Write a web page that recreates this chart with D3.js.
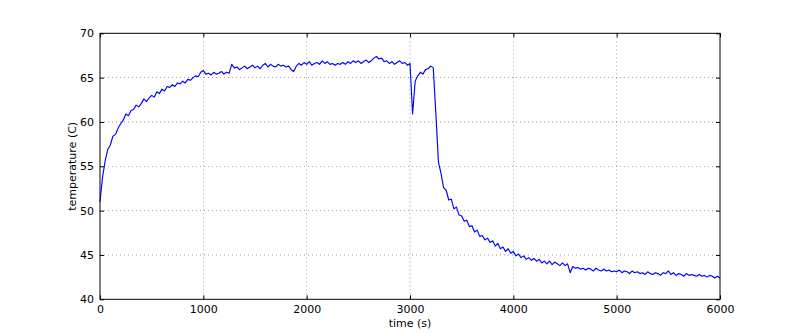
<!DOCTYPE html>
<html><head><meta charset="utf-8">
<script src="https://cdn.jsdelivr.net/npm/d3@7"></script>
<style>body{margin:0;background:#fff}svg{display:block}text{font-family:"DejaVu Sans",sans-serif}</style>
</head><body><svg id="c" width="800" height="333"></svg>
<script>
const sampleInterval = 25; // seconds between readings
const temperature = [
51.0,53.8,55.6,56.9,57.4,58.4,58.6,59.3,59.8,60.2,
60.9,60.7,61.3,61.4,61.9,61.7,62.1,62.6,62.3,62.7,
63.0,62.8,63.4,63.2,63.7,63.5,64.0,63.9,64.2,64.0,
64.4,64.3,64.6,64.4,64.8,64.7,65.0,65.2,65.1,65.6,
65.8,65.4,65.5,65.3,65.6,65.4,65.5,65.7,65.4,65.6,
65.5,66.5,66.1,66.2,65.9,66.1,66.3,66.0,66.2,66.4,
66.1,66.3,66.0,66.4,66.6,66.2,66.5,66.3,66.2,66.5,
66.3,66.4,66.2,66.3,65.9,65.7,66.3,66.6,66.4,66.7,
66.5,66.8,66.4,66.6,66.7,66.5,66.9,66.6,66.8,66.5,
66.6,66.4,66.6,66.5,66.7,66.5,66.8,66.6,66.9,66.7,
66.9,66.6,66.8,67.0,66.7,66.9,67.2,67.4,67.1,67.2,
66.8,66.9,66.6,66.8,66.5,66.7,66.9,66.6,66.7,66.4,
66.6,60.9,64.6,65.2,65.6,65.4,65.9,66.0,66.3,66.1,
61.0,55.5,54.2,52.6,52.3,51.2,51.3,50.2,50.4,49.5,
49.4,48.8,48.9,48.2,48.3,47.6,47.8,47.1,47.2,46.7,
46.9,46.4,46.6,46.0,46.3,45.7,45.9,45.4,45.7,45.2,
45.4,44.9,45.1,44.7,44.9,44.5,44.7,44.4,44.6,44.3,
44.5,44.1,44.3,44.0,44.3,43.9,44.2,44.0,43.8,44.1,
43.8,44.0,43.0,43.7,43.5,43.6,43.4,43.5,43.3,43.5,
43.4,43.2,43.5,43.3,43.2,43.4,43.2,43.3,43.1,43.2,
43.1,43.3,43.0,43.2,43.1,42.9,43.2,43.0,43.1,42.9,
43.0,42.8,43.1,42.9,42.8,43.0,42.9,42.7,43.0,42.9,
43.2,42.8,43.0,42.7,42.9,42.8,42.6,42.9,42.7,42.8,
42.7,42.6,42.8,42.6,42.7,42.5,42.7,42.6,42.4,42.6,
42.4
];
const xTicks = [0,1000,2000,3000,4000,5000,6000];
const yTicks = [40,45,50,55,60,65,70];
const xLabel = "time (s)";
const yLabel = "temperature (C)";

const data = temperature.map((v,i)=>({t:i*sampleInterval, v}));
const svg = d3.select("#c");
const L=100,R=720,T=33.3,B=299.3;
const x = d3.scaleLinear().domain([0,6000]).range([L,R]);
const y = d3.scaleLinear().domain([40,70]).range([B,T]);

const g = svg.append("g");
g.selectAll(".gx").data(xTicks.slice(1,-1)).join("line")
  .attr("x1",d=>x(d)).attr("x2",d=>x(d)).attr("y1",T).attr("y2",B)
  .attr("stroke","#000").attr("stroke-width",0.5).attr("stroke-dasharray","1,3").attr("opacity",0.8);
g.selectAll(".gy").data(yTicks.slice(1,-1)).join("line")
  .attr("y1",d=>y(d)).attr("y2",d=>y(d)).attr("x1",L).attr("x2",R)
  .attr("stroke","#000").attr("stroke-width",0.5).attr("stroke-dasharray","1,3").attr("opacity",0.8);

svg.append("path").datum(data)
  .attr("d",d3.line().x(d=>x(d.t)).y(d=>y(d.v)))
  .attr("fill","none").attr("stroke","#0000ff").attr("stroke-width",1.15).attr("stroke-linejoin","round");

const ax = svg.append("g").attr("transform",`translate(0,${B})`)
  .call(d3.axisBottom(x).tickValues(xTicks).tickSize(-4).tickPadding(6).tickFormat(d3.format("d")));
const axT = svg.append("g").attr("transform",`translate(0,${T})`)
  .call(d3.axisTop(x).tickValues(xTicks).tickSize(-4).tickFormat(""));
const ay = svg.append("g").attr("transform",`translate(${L},0)`)
  .call(d3.axisLeft(y).tickValues(yTicks).tickSize(-4).tickPadding(6));
const ayR = svg.append("g").attr("transform",`translate(${R},0)`)
  .call(d3.axisRight(y).tickValues(yTicks).tickSize(-4).tickFormat(""));
[ax,axT,ay,ayR].forEach(a=>{
  a.select(".domain").remove();
  a.selectAll("line").attr("stroke","#000");
  a.selectAll("text").attr("font-size","11px").attr("fill","#000").attr("font-family","DejaVu Sans");
});
ax.selectAll("text").attr("dy","0.71em");
svg.append("rect").attr("x",L).attr("y",T).attr("width",R-L).attr("height",B-T)
  .attr("fill","none").attr("stroke","#000").attr("stroke-width",1);

svg.append("text").attr("x",(L+R)/2).attr("y",327).attr("text-anchor","middle")
  .attr("font-size","11px").text(xLabel);
svg.append("text").attr("transform",`translate(76,${(T+B)/2}) rotate(-90)`).attr("text-anchor","middle")
  .attr("font-size","11px").text(yLabel);
</script></body></html>
